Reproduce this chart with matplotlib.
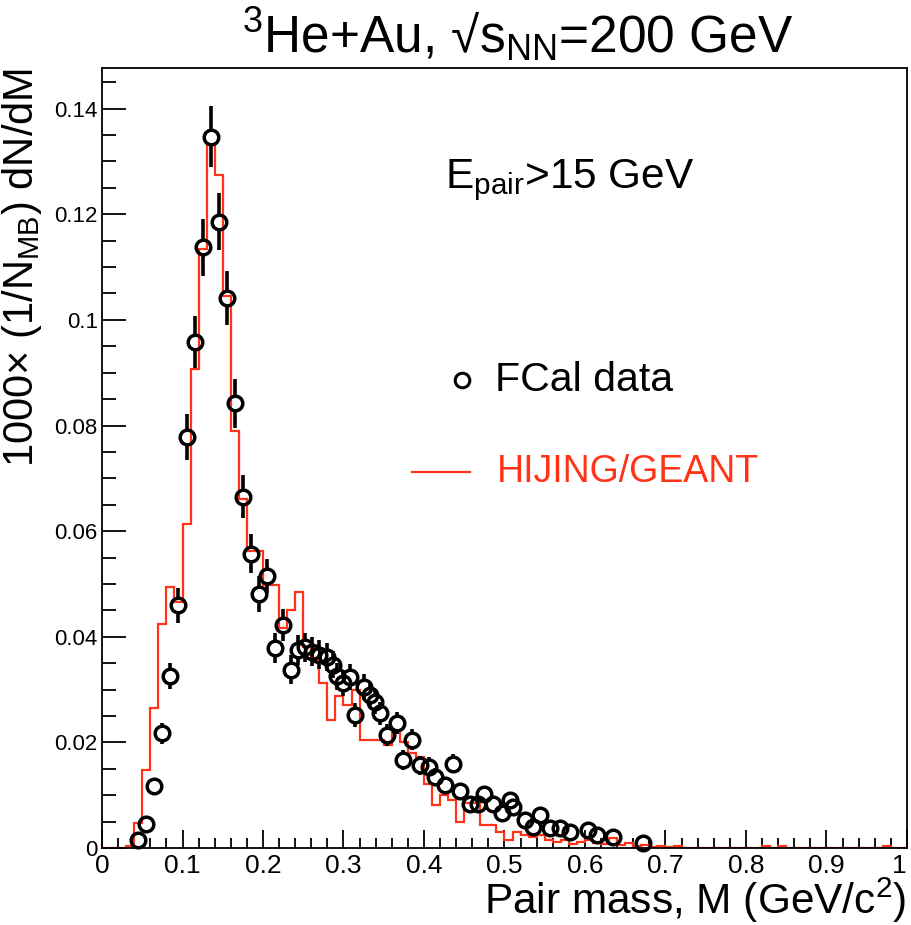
import numpy as np
import matplotlib
matplotlib.use("Agg")
import matplotlib.pyplot as plt
from matplotlib.ticker import MultipleLocator, FixedLocator

plt.rcParams['font.family'] = ['Liberation Sans', 'DejaVu Sans']
plt.rcParams['mathtext.fontset'] = 'custom'
plt.rcParams['mathtext.rm'] = 'Liberation Sans'
plt.rcParams['mathtext.it'] = 'Liberation Sans'
plt.rcParams['mathtext.default'] = 'regular'

# ---- FCal data points ----
data_mass = [0.045, 0.055, 0.065, 0.075, 0.085, 0.095, 0.105, 0.115, 0.125, 0.135,
             0.145, 0.155, 0.165, 0.175, 0.185, 0.195, 0.205, 0.215, 0.225, 0.235,
             0.244, 0.252, 0.261, 0.270, 0.279, 0.287, 0.292, 0.300, 0.308, 0.314,
             0.325, 0.333, 0.339, 0.345, 0.354, 0.366, 0.374, 0.385, 0.395, 0.406,
             0.414, 0.426, 0.4365, 0.445, 0.457, 0.4675, 0.474, 0.486, 0.4965, 0.507,
             0.511, 0.5255, 0.536, 0.544, 0.5565, 0.569, 0.581, 0.604, 0.6145, 0.635,
             0.672]
data_val = [0.0015, 0.0045, 0.0118, 0.0217, 0.0326, 0.0460, 0.0778, 0.0958, 0.1138, 0.1347,
            0.1186, 0.1042, 0.0842, 0.0665, 0.0557, 0.0481, 0.0515, 0.0379, 0.0422, 0.0338,
            0.0375, 0.0380, 0.0372, 0.0366, 0.0362, 0.0347, 0.0325, 0.0312, 0.0324, 0.0252,
            0.0305, 0.0290, 0.0277, 0.0255, 0.0214, 0.0236, 0.0167, 0.0205, 0.0157, 0.0154,
            0.0135, 0.0119, 0.0160, 0.0107, 0.0084, 0.0084, 0.0103, 0.0084, 0.0066, 0.0091,
            0.0078, 0.0053, 0.0040, 0.0063, 0.0037, 0.0037, 0.0031, 0.0034, 0.0025, 0.0021,
            0.0010]
data_err = [0.0006, 0.0009, 0.0013, 0.0020, 0.0025, 0.0033, 0.0044, 0.0050, 0.0054, 0.0058,
            0.0054, 0.0051, 0.0047, 0.0041, 0.0037, 0.0034, 0.0032, 0.0029, 0.0030, 0.0027,
            0.0028, 0.0028, 0.0027, 0.0027, 0.0027, 0.0026, 0.0025, 0.0025, 0.0025, 0.0022,
            0.0024, 0.0024, 0.0023, 0.0022, 0.0020, 0.0021, 0.0019, 0.0020, 0.0018, 0.0018,
            0.0017, 0.0016, 0.0018, 0.0015, 0.0014, 0.0014, 0.0015, 0.0014, 0.0012, 0.0014,
            0.0013, 0.0011, 0.0010, 0.0012, 0.0009, 0.0009, 0.0008, 0.0009, 0.0008, 0.0007,
            0.0005]

# ---- HIJING/GEANT histogram (0.01 GeV bins from 0 to 1) ----
sim_edges = [round(0.01 * i, 2) for i in range(101)]
sim_val = [0, 0, 0, 0.0003, 0.0048, 0.0148, 0.0266, 0.0425, 0.0494, 0.0465,
           0.0613, 0.0907, 0.1135, 0.1331, 0.1275, 0.1045, 0.0789, 0.0660, 0.0562, 0.0562,
           0.0498, 0.0498, 0.0416, 0.0451, 0.0485, 0.0380, 0.0360, 0.0312, 0.0242, 0.0287,
           0.0271, 0.0300, 0.0205, 0.0205, 0.0205, 0.0195, 0.0218, 0.0200, 0.0180, 0.0173,
           0.0122, 0.0081, 0.0100, 0.0091, 0.0050, 0.0085, 0.0085, 0.0044, 0.0044, 0.0031,
           0.0015, 0.0031, 0.0025, 0.0020, 0.0025, 0.0015, 0.0012, 0.0015, 0.0008, 0.0012,
           0.0015, 0.0010, 0.0008, 0.0018, 0.0005, 0.0010, 0.0004, 0.0006, 0.0002, 0.0003,
           0.0002, 0.0003, 0, 0, 0, 0, 0, 0, 0, 0,
           0, 0, 0.0004, 0, 0.0004, 0, 0, 0, 0, 0,
           0, 0, 0, 0, 0, 0, 0, 0.0004, 0, 0]

x_ticks = [0, 0.1, 0.2, 0.3, 0.4, 0.5, 0.6, 0.7, 0.8, 0.9, 1.0]
x_ticklabels = ["0", "0.1", "0.2", "0.3", "0.4", "0.5", "0.6", "0.7", "0.8", "0.9", "1"]
y_ticks = [0, 0.02, 0.04, 0.06, 0.08, 0.10, 0.12, 0.14]
y_ticklabels = ["0", "0.02", "0.04", "0.06", "0.08", "0.1", "0.12", "0.14"]

RED = '#ff3318'

fig = plt.figure(figsize=(9.12, 9.25), dpi=100)
ax = fig.add_axes([102/912, 1 - 848/925, 805/912, 780/925])
ax.set_xlim(0, 1)
ax.set_ylim(0, 0.1477)

ax.stairs(sim_val, sim_edges, color=RED, lw=1.6, zorder=2)

# data markers (hollow) with error bars leaving a gap inside the marker
xs = np.array(data_mass); ys = np.array(data_val); es = np.array(data_err)
gap = 7.5 / (780 / 0.1477)
mask = es > gap
ax.vlines(xs[mask], ys[mask] + gap, ys[mask] + es[mask], color='black', lw=2.6, zorder=3)
ax.vlines(xs[mask], ys[mask] - es[mask], ys[mask] - gap, color='black', lw=2.6, zorder=3)
ax.plot(xs, ys, 'o', ms=10.5, mfc='none', mec='black', mew=2.5, zorder=4, clip_on=False)

ax.xaxis.set_major_locator(FixedLocator(x_ticks))
ax.set_xticklabels(x_ticklabels)
ax.xaxis.set_minor_locator(MultipleLocator(0.02))
ax.yaxis.set_major_locator(FixedLocator(y_ticks))
ax.set_yticklabels(y_ticklabels)
ax.yaxis.set_minor_locator(MultipleLocator(0.005))
ax.tick_params(axis='x', which='major', direction='in', length=13, width=1.3, labelsize=19, pad=4)
ax.tick_params(axis='x', which='minor', direction='in', length=7, width=1.3)
ax.tick_params(axis='y', which='major', direction='in', length=17, width=1.3, labelsize=16, pad=3)
ax.tick_params(axis='y', which='minor', direction='in', length=10, width=1.3)
for s in ax.spines.values():
    s.set_linewidth(1.3)
ax.get_xticklabels()[-1].set_horizontalalignment('right')

fig.text(518/912, 1 - 35/925, "$^{3}$He+Au, √s$_{NN}$=200 GeV", ha='center', va='center', fontsize=37)
fig.text(906/912, 1 - 900/925, "Pair mass, M (GeV/c$^{2}$)", ha='right', va='center', fontsize=30.5)
fig.text(22/912, 1 - 68/925, "1000× (1/N$_{MB}$) dN/dM", ha='center', va='top', rotation=90, fontsize=30)

ax.text(0.426, 0.856, "E$_{pair}$>15 GeV", transform=ax.transAxes, ha='left', va='center', fontsize=30.5)

# legend
ax.plot([0.447], [0.600], 'o', ms=10.5, mfc='none', mec='black', mew=2.2, transform=ax.transAxes)
ax.text(0.488, 0.600, "FCal data", transform=ax.transAxes, ha='left', va='center', fontsize=29.5)
ax.plot([0.385, 0.457], [0.482, 0.482], color=RED, lw=1.6, transform=ax.transAxes)
ax.text(0.491, 0.482, "HIJING/GEANT", transform=ax.transAxes, ha='left', va='center', fontsize=27, color=RED)

fig.savefig("out.png", dpi=100)
